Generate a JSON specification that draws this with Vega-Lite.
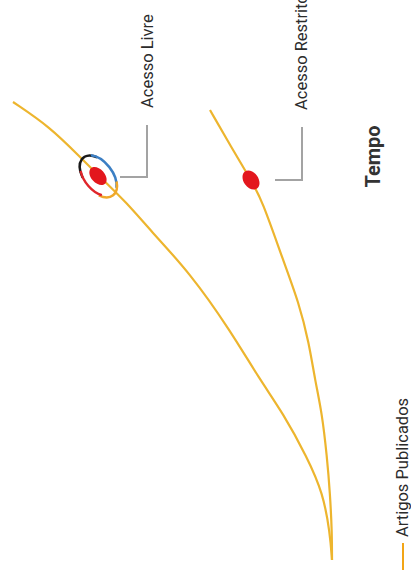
{
  "$schema": "https://vega.github.io/schema/vega-lite/v6.json",
  "autosize": {"type": "none"},
  "width": 411,
  "height": 586,
  "padding": 0,
  "background": "white",
  "config": {"view": {"stroke": null}},
  "datasets": {
    "curvas": [
      {"serie": "Acesso Livre", "artigos": 0, "tempo": 0},
      {"serie": "Acesso Livre", "artigos": 2, "tempo": 27},
      {"serie": "Acesso Livre", "artigos": 9, "tempo": 67},
      {"serie": "Acesso Livre", "artigos": 25, "tempo": 103},
      {"serie": "Acesso Livre", "artigos": 49, "tempo": 147},
      {"serie": "Acesso Livre", "artigos": 72, "tempo": 180},
      {"serie": "Acesso Livre", "artigos": 102, "tempo": 230},
      {"serie": "Acesso Livre", "artigos": 142, "tempo": 287},
      {"serie": "Acesso Livre", "artigos": 182, "tempo": 330},
      {"serie": "Acesso Livre", "artigos": 205, "tempo": 357},
      {"serie": "Acesso Livre", "artigos": 234, "tempo": 385},
      {"serie": "Acesso Livre", "artigos": 252, "tempo": 403},
      {"serie": "Acesso Livre", "artigos": 282, "tempo": 433},
      {"serie": "Acesso Livre", "artigos": 319, "tempo": 458},
      {"serie": "Acesso Restrito", "artigos": 0, "tempo": 0},
      {"serie": "Acesso Restrito", "artigos": 0, "tempo": 27},
      {"serie": "Acesso Restrito", "artigos": 2, "tempo": 67},
      {"serie": "Acesso Restrito", "artigos": 5, "tempo": 103},
      {"serie": "Acesso Restrito", "artigos": 10, "tempo": 147},
      {"serie": "Acesso Restrito", "artigos": 17, "tempo": 180},
      {"serie": "Acesso Restrito", "artigos": 23, "tempo": 217},
      {"serie": "Acesso Restrito", "artigos": 33, "tempo": 257},
      {"serie": "Acesso Restrito", "artigos": 49, "tempo": 300},
      {"serie": "Acesso Restrito", "artigos": 70, "tempo": 360},
      {"serie": "Acesso Restrito", "artigos": 81, "tempo": 380},
      {"serie": "Acesso Restrito", "artigos": 102, "tempo": 415},
      {"serie": "Acesso Restrito", "artigos": 122, "tempo": 450}
    ],
    "conectores": [
      {"grupo": "Acesso Livre", "ordem": 1, "artigos": 185, "tempo": 435},
      {"grupo": "Acesso Livre", "ordem": 2, "artigos": 185, "tempo": 383},
      {"grupo": "Acesso Livre", "ordem": 3, "artigos": 212, "tempo": 383},
      {"grupo": "Acesso Restrito", "ordem": 1, "artigos": 30, "tempo": 433},
      {"grupo": "Acesso Restrito", "ordem": 2, "artigos": 30, "tempo": 380},
      {"grupo": "Acesso Restrito", "ordem": 3, "artigos": 57, "tempo": 380}
    ],
    "livre": [{"serie": "Acesso Livre", "artigos": 234, "tempo": 384}],
    "restrito": [{"serie": "Acesso Restrito", "artigos": 81, "tempo": 380}],
    "rotulos": [
      {"texto": "Acesso Livre", "artigos": 184, "tempo": 452},
      {"texto": "Acesso Restrito", "artigos": 30, "tempo": 450}
    ],
    "eixo": [{"texto": "Tempo", "artigos": -41.5, "tempo": 403.5}],
    "legenda": [{"texto": "Artigos Publicados", "artigos": -71, "tempo": 23, "tempo2": -10, "tempo1": 17}]
  },
  "encoding": {
    "x": {"field": "artigos", "type": "quantitative", "axis": null,
          "scale": {"domain": [-79, 332], "reverse": true, "nice": false, "zero": false}},
    "y": {"field": "tempo", "type": "quantitative", "axis": null,
          "scale": {"domain": [-26, 560], "nice": false, "zero": false}}
  },
  "layer": [
    {
      "data": {"name": "curvas"},
      "mark": {"type": "line", "interpolate": "basis", "color": "#EDB52E", "strokeWidth": 2.2},
      "encoding": {"detail": {"field": "serie"}, "order": {"field": "tempo", "type": "quantitative"}}
    },
    {
      "data": {"name": "conectores"},
      "mark": {"type": "line", "color": "#A3A3A3", "strokeWidth": 2},
      "encoding": {"detail": {"field": "grupo"}, "order": {"field": "ordem", "type": "quantitative"}}
    },
    {
      "data": {"name": "livre"},
      "mark": {"type": "point", "filled": true, "opacity": 1, "color": "#E3171D",
               "shape": "M-0.65,0A0.65,1 0 1,1 0.65,0A0.65,1 0 1,1 -0.65,0Z", "size": 440, "angle": -42}
    },
    {
      "data": {"name": "restrito"},
      "mark": {"type": "point", "filled": true, "opacity": 1, "color": "#E3171D",
               "shape": "M-0.7,0A0.7,1 0 1,1 0.7,0A0.7,1 0 1,1 -0.7,0Z", "size": 440, "angle": -35}
    },
    {
      "data": {"name": "livre"},
      "mark": {"type": "point", "filled": false, "opacity": 1, "color": "#1A1A1A", "strokeWidth": 2.5,
               "shape": "M-0.564,-0.342A0.6,1 0 0,1 0.46,-0.643", "size": 2200, "angle": -38}
    },
    {
      "data": {"name": "livre"},
      "mark": {"type": "point", "filled": false, "opacity": 1, "color": "#3C7FC4", "strokeWidth": 2.5,
               "shape": "M0.3,-0.866A0.6,1 0 0,1 0.3,0.866", "size": 2300, "angle": -38}
    },
    {
      "data": {"name": "livre"},
      "mark": {"type": "point", "filled": false, "opacity": 1, "color": "#F0A82A", "strokeWidth": 2.5,
               "shape": "M0.46,0.643A0.6,1 0 0,1 -0.46,0.643", "size": 2400, "angle": -38}
    },
    {
      "data": {"name": "livre"},
      "mark": {"type": "point", "filled": false, "opacity": 1, "color": "#E0262B", "strokeWidth": 2.5,
               "shape": "M-0.386,0.766A0.6,1 0 0,1 -0.46,-0.643", "size": 2100, "angle": -38}
    },
    {
      "data": {"name": "rotulos"},
      "mark": {"type": "text", "angle": 270, "align": "left", "baseline": "middle",
               "font": "Roboto", "fontSize": 16.5, "color": "#2B2B2B"},
      "encoding": {"text": {"field": "texto"}}
    },
    {
      "data": {"name": "eixo"},
      "mark": {"type": "text", "angle": 270, "align": "center", "baseline": "middle",
               "font": "Roboto", "fontWeight": "bold", "fontSize": 20, "color": "#333333"},
      "encoding": {"text": {"field": "texto"}}
    },
    {
      "data": {"name": "legenda"},
      "mark": {"type": "rule", "color": "#F2A516", "strokeWidth": 2},
      "encoding": {"y": {"field": "tempo1", "type": "quantitative"}, "y2": {"field": "tempo2"}}
    },
    {
      "data": {"name": "legenda"},
      "mark": {"type": "text", "angle": 270, "align": "left", "baseline": "middle",
               "font": "Roboto", "fontSize": 16.5, "color": "#2B2B2B"},
      "encoding": {"text": {"field": "texto"}}
    }
  ]
}
